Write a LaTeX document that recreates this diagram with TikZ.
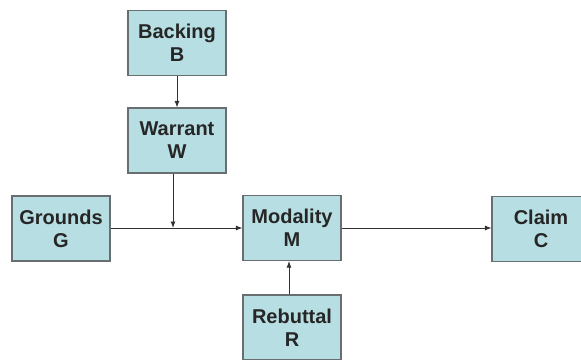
\documentclass[tikz,border=0pt]{standalone}
\usepackage{fontspec}
\setmainfont{Liberation Sans}
\usetikzlibrary{arrows.meta, positioning}
\definecolor{boxfill}{RGB}{183,222,226}
\definecolor{boxgray}{RGB}{105,110,112}
\definecolor{linegray}{RGB}{50,50,50}

\begin{document}
\begin{tikzpicture}[x=1pt, y=-1pt,
    box/.style = {draw=boxgray, fill=boxfill, line width=1.1pt,
                  minimum width=98pt, minimum height=65pt, inner sep=0pt,
                  align=center, font=\bfseries\fontsize{20}{23}\selectfont,
                  text=black!85},
    link/.style = {-{Latex[length=6.5pt,width=5pt]}, line width=0.9pt, draw=linegray}]
    \useasboundingbox (0,0) rectangle (581,359);
    \clip (0,0) rectangle (581,359);

    \node[box] (backing)  at (177,43)    {Backing\\B};
    \node[box] (warrant)  at (177,140.5) {Warrant\\W};
    \node[box] (grounds)  at (61,228.5)  {Grounds\\G};
    \node[box] (modality) at (292,228)   {Modality\\M};
    \node[box] (claim)    at (541,229)   {Claim\\C};
    \node[box] (rebuttal) at (292,327.5) {Rebuttal\\R};

    \coordinate (join) at ([xshift=-4pt]warrant.south |- modality.west);

    \draw[link] (backing) -- (warrant);
    \draw[link] ([xshift=-4pt]warrant.south) -- (join);
    \draw[link] (grounds.east |- modality.west) -- (modality.west);
    \draw[link] (modality.east) -- (modality.east -| claim.west);
    \draw[link] ([xshift=-3pt]rebuttal.north) -- ([xshift=-3pt]modality.south);
\end{tikzpicture}
\end{document}
